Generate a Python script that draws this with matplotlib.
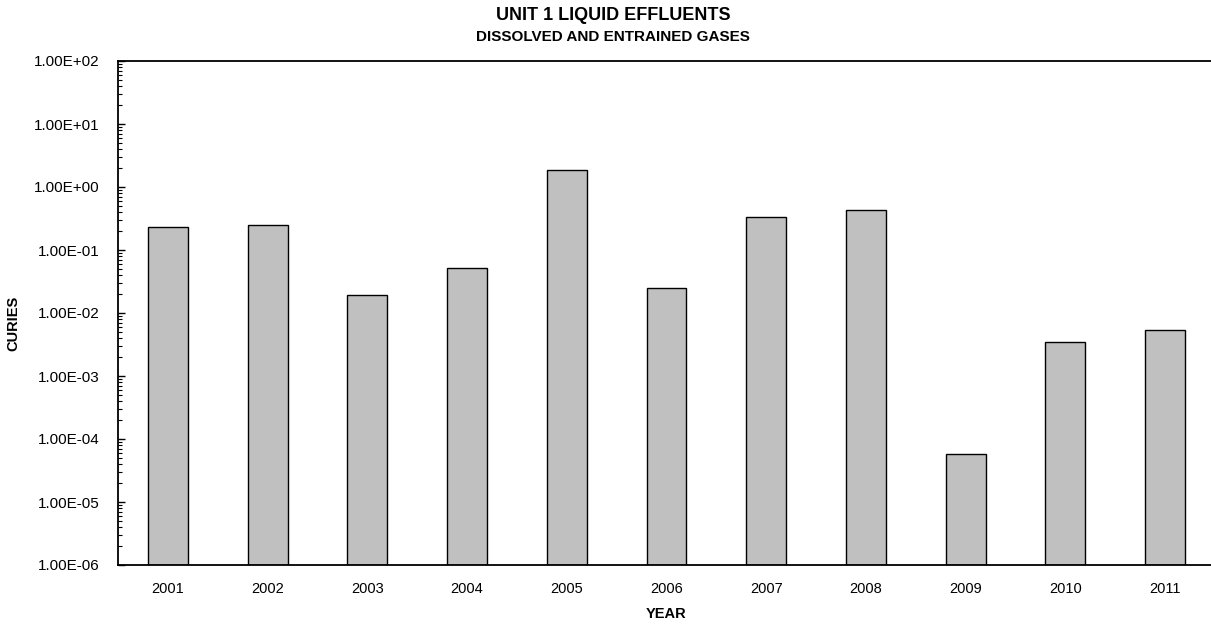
import matplotlib
matplotlib.use("Agg")
import matplotlib.pyplot as plt
from matplotlib.ticker import LogLocator, FixedLocator, NullFormatter

plt.rcParams['font.family'] = ['Liberation Sans', 'DejaVu Sans']

years = ['2001', '2002', '2003', '2004', '2005', '2006', '2007', '2008', '2009', '2010', '2011']
curies = [2.34e-01, 2.49e-01, 1.95e-02, 5.1e-02, 1.84e+00, 2.47e-02, 3.30e-01, 4.36e-01, 5.7e-05, 3.43e-03, 5.37e-03]
ytick_vals = [1e-6, 1e-5, 1e-4, 1e-3, 1e-2, 1e-1, 1e0, 1e1, 1e2]

W, H = 1211, 626
fig = plt.figure(figsize=(W / 100, H / 100), dpi=100)
ax = fig.add_axes([118 / W, (H - 565) / H, (1215 - 118) / W, (565 - 61) / H])

x = range(len(years))
ax.bar(x, curies, width=0.40, bottom=1e-6, color='#c0c0c0', edgecolor='black', linewidth=1.0)

ax.set_yscale('log')
ax.set_ylim(1e-6, 1e2)
ax.set_xlim(-0.5, len(years) - 0.5)
ax.yaxis.set_major_locator(FixedLocator(ytick_vals))
ax.set_yticks(ytick_vals)
ax.set_yticklabels(['%.2E' % v for v in ytick_vals])
ax.yaxis.set_minor_locator(LogLocator(base=10, subs=range(2, 10), numticks=20))
ax.yaxis.set_minor_formatter(NullFormatter())
ax.set_xticks(list(x))
ax.set_xticklabels(years)

ax.tick_params(axis='y', which='major', direction='in', length=5, width=1, labelsize=11, pad=13)
ax.tick_params(axis='y', which='minor', direction='in', length=3, width=0.8)
ax.tick_params(axis='x', length=0, labelsize=10.5, pad=12)

for side in ['top', 'left', 'bottom']:
    ax.spines[side].set_linewidth(1.3)
ax.spines['right'].set_visible(False)

ax.set_xlabel('YEAR', fontsize=10.5, fontweight='bold', labelpad=8)
ax.set_ylabel('CURIES', fontsize=10.5, fontweight='bold', labelpad=22)
ax.yaxis.set_label_coords(-98 / (1215 - 118), 0.48)

fig.text(613 / W, 1 - 15 / H, 'UNIT 1 LIQUID EFFLUENTS', ha='center', va='center', fontsize=13, fontweight='bold')
fig.text(613 / W, 1 - 37 / H, 'DISSOLVED AND ENTRAINED GASES', ha='center', va='center', fontsize=11, fontweight='bold')

fig.savefig('out.png', dpi=100)
